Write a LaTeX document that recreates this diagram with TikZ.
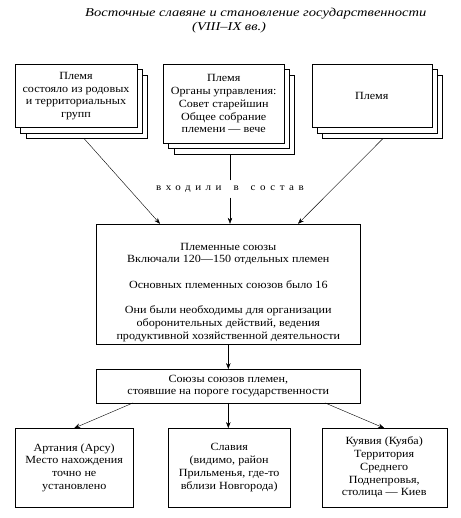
\documentclass[tikz,border=0pt]{standalone}
\usepackage{fontspec}
\setmainfont{Liberation Serif}[FakeStretch=1.1]
\newfontfamily\titlefont{Liberation Serif}[FakeStretch=1.21]
\newfontfamily\spacedfont{Liberation Serif}[FakeStretch=1.1, LetterSpace=45]
\usetikzlibrary{positioning, arrows.meta}
\usetikzlibrary{shadows}
\tikzset{
    box/.style={draw, fill=white, align=center, inner sep=2pt,
      font=\fontsize{11}{12.7}\selectfont},
    stack/.style={box,
      copy shadow={shadow xshift=10.6pt, shadow yshift=-10.6pt},
      copy shadow={shadow xshift=5.3pt, shadow yshift=-5.3pt}},
    arr/.style={-{Stealth[length=6pt,width=4.5pt]}},
  }

\begin{document}
\begin{tikzpicture}[x=1pt,y=-1pt]
\useasboundingbox (0,0) rectangle (460,518);

% title
\node[anchor=base west, inner sep=0pt, font=\titlefont\itshape\fontsize{12}{14}\selectfont] (title) at (85,16.5) {Восточные славяне и становление государственности};
\node[anchor=base west, inner sep=0pt, font=\titlefont\itshape\fontsize{12}{14}\selectfont] (titleb) at (192,31) {(VIII–IX вв.)};

% tribes
\node[stack, minimum width=121.7pt, minimum height=63.4pt] (tribeA) at (76,96) {Племя\\состояло из родовых\\и территориальных\\групп};
\node[stack, minimum width=120.7pt, minimum height=79pt] (tribeB) at (223.7,103.8) {Племя\\Органы управления:\\Совет старейшин\\Общее собрание\\племени — вече};
\node[stack, minimum width=120pt, minimum height=63.4pt] (tribeC) at (371.7,96) {Племя};

% unions
\node[box, minimum width=263.3pt, minimum height=120pt] (union) at (228.3,284) {{}\\[11pt]Племенные союзы\\Включали 120—150 отдельных племен\\[12.7pt]Основных племенных союзов было 16\\[12.7pt]Они были необходимы для организации\\оборонительных действий, ведения\\продуктивной хозяйственной деятельности};
\node[box, minimum width=263.3pt, minimum height=33.4pt] (super) at (228.3,386) {Союзы союзов племен,\\стоявшие на пороге государственности};

% centres
\node[box, minimum width=118.3pt, minimum height=78.4pt] (artania) at (74.2,467.5) {Артания (Арсу)\\Место нахождения\\точно не\\установлено};
\node[box, minimum width=121.7pt, minimum height=78.4pt] (slavia) at (229.2,467.5) {Славия\\(видимо, район\\Прильменья, где-то\\вблизи Новгорода)};
\node[box, minimum width=125pt, minimum height=78.4pt] (kuyavia) at (384.2,467.5) {Куявия (Куяба)\\Территория\\Среднего\\Поднепровья,\\столица — Киев};

% label on the middle line
\node[inner xsep=0pt, inner ysep=5pt, font=\spacedfont\fontsize{10}{11}\selectfont] (part) at (230,189) {входили\hspace{12pt}в\hspace{12pt}состав};
\coordinate (tribeBbot) at ([yshift=-10.6pt]tribeB.south);

\draw[arr] ([xshift=8pt,yshift=-10.6pt]tribeA.south) -- ([xshift=-68.3pt]union.north);
\draw (part.north) -- (part.north |- tribeBbot);
\draw[arr] (part.south) -- (part.south |- union.north);
\draw[arr] ([xshift=11.3pt,yshift=-10.6pt]tribeC.south) -- ([xshift=69.7pt]union.north);

\draw[arr] (union.south) -- (super.north);
\draw[arr] ([xshift=-95.3pt]super.south) -- (artania.north);
\draw[arr] (super.south) -- (super.south |- slavia.north);
\draw[arr] ([xshift=96.7pt]super.south) -- (kuyavia.north);
\end{tikzpicture}
\end{document}
